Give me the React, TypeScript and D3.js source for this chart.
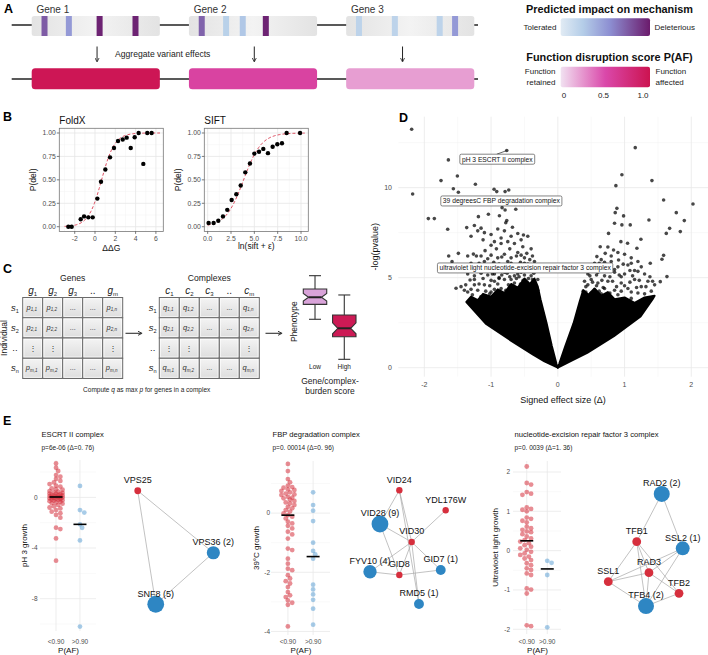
import React from 'react';
import * as d3 from 'd3';

const FONT = "'Liberation Sans', Arial, Helvetica, sans-serif";

// ================= Panel A data =================
const genes = ['Gene 1', 'Gene 2', 'Gene 3'];
const variantPos = [
  [0.10, 0.29, 0.53, 0.81],
  [0.10, 0.29, 0.42, 0.60],
  [0.10, 0.38, 0.73, 0.85],
];
const variantImpact = [
  [0.75, 0.5, 0.97, 0.97],
  [0.72, 0.22, 0.28, 0.97],
  [0.2, 0.2, 0.2, 0.5],
];
const geneScore = [0.97, 0.55, 0.22];
const arrowPos = [0.51, 0.51, 0.44];
const pafTicks = [0, 0.5, 1];
const impactStops = [0, 0.25, 0.55, 1];
const impactColors = ['#e1ebf4', '#b4cde8', '#8d8fd2', '#6b1b6c'];

// ================= Panel B data =================
const foldxX = [-2.63, -2.3, -1.41, -1.08, -0.66, -0.23, 0.23, 0.59, 1.02, 1.48, 1.87, 2.27, 2.73, 3.12, 3.52, 3.91, 4.3, 4.76, 5.15, 5.58];
const foldxY = [0, 0, 0.08, 0.11, 0.1, 0.1, 0.3, 0.48, 0.61, 0.74, 0.84, 0.915, 0.93, 0.95, 0.84, 0.955, 1.0, 0.67, 1.0, 1.0];
const foldxFit = [0.65, 1.55]; // midpoint, slope
const siftX = [0.1, 0.64, 1.14, 1.64, 2.1, 2.57, 3.07, 3.54, 4.03, 4.53, 5.0, 5.5, 5.96, 6.46, 6.96, 7.46, 7.96, 8.46, 9.9];
const siftY = [0.04, 0.04, 0.064, 0.11, 0.18, 0.285, 0.346, 0.44, 0.58, 0.675, 0.78, 0.8, 0.83, 0.785, 0.853, 0.88, 0.89, 1.0, 1.0];
const siftFit = [3.85, 1.05];
const pTicks = [0, 0.25, 0.5, 0.75, 1];

// ================= Panel C data =================
const geneColSubs = ['1', '2', '3', '..', 'm'];
const cplxColSubs = ['1', '2', '3', '..', 'm'];
const rowSubs = ['1', '2', '..', 'n'];
const cellSubs = [
  ['1,1', '1,2', '...', '...', '1,n'],
  ['2,1', '2,2', '...', '...', '2,n'],
  [':', ':', '', '', ':'],
  ['m,1', 'm,2', '...', '...', 'm,n'],
];
const boxGroups = ['Low', 'High'];
const boxMin = [4.79, 0.08];
const boxQ1 = [6.55, 2.74];
const boxMed = [7.38, 3.73];
const boxQ3 = [8.35, 5.29];
const boxMax = [9.92, 7.65];
const boxNotch = [0.45, 0.65];
const boxFill = ['#d9a3d9', '#cc1a55'];

// ================= Panel D data =================
const coreLeft: [number, number][] = [[0, 0], [-0.2, 0.35], [-0.37, 0.72], [-0.72, 1.55], [-1.08, 2.45], [-1.37, 3.65], [-1.3, 3.95], [-1.2, 3.75], [-1.12, 4.1], [-1.0, 3.95], [-0.9, 4.35], [-0.8, 4.15], [-0.7, 4.65], [-0.6, 4.45], [-0.5, 4.95], [-0.42, 4.65], [-0.35, 4.95], [-0.3, 4.5], [-0.26, 3.8], [-0.17, 2.5], [-0.09, 1.2], [-0.02, 0.2]];
const coreRight: [number, number][] = [[0, 0], [0.02, 0.2], [0.11, 1.17], [0.235, 2.46], [0.33, 3.7], [0.38, 4.3], [0.46, 4.05], [0.55, 4.4], [0.65, 4.0], [0.75, 4.2], [0.85, 3.8], [1.0, 3.9], [1.15, 3.6], [1.3, 3.9], [1.45, 4.0], [1.42, 3.8], [1.24, 2.85], [0.84, 1.75], [0.44, 0.82], [0.2, 0.38]];
const volcanoPts: [number, number][] = [
  [-2.19, 13.24], [-2.175, 9.65], [-1.64, 11.54], [-1.75, 10.39], [-1.505, 10.65], [-1.565, 9.94], [-1.49, 9.74], [-1.235, 10.19], [-0.955, 9.91], [-0.915, 9.78], [-0.79, 9.78], [-0.735, 9.87], [-0.765, 12.06], [-1.94, 8.28], [-1.85, 8.28], [-1.65, 7.69], [-1.365, 7.78], [-1.19, 8.39], [-1.04, 8.52], [-0.875, 8.44], [-0.835, 8.89], [-0.79, 8.76], [-0.63, 8.8], [-0.765, 8.17], [-0.78, 8.05], [-1.635, 6.2], [-1.585, 5.89], [-1.49, 6.35], [-1.265, 6.31], [-1.09, 6.5], [-1.525, 4.41], [-1.315, 4.87], [-1.415, 5.43], [-0.515, 7.37], [-0.525, 6.72], [-0.465, 6.35],
  [-1.25, 7.9], [-1.2, 7.6], [-1.15, 7.75], [-1.1, 7.5], [-1.0, 7.4], [-0.95, 7.0], [-0.85, 7.2], [-0.8, 7.6], [-0.7, 7.3], [-0.6, 7.45], [-0.55, 7.1], [-0.75, 7.0], [-0.9, 7.7], [-1.3, 7.3], [-1.12, 7.1], [-0.68, 7.8], [-0.45, 7.3],
  [-1.0, 6.8], [-0.92, 6.6], [-0.85, 6.9], [-0.8, 6.3], [-0.72, 6.6], [-0.65, 6.9], [-0.6, 6.4], [-0.5, 6.1], [-0.7, 6.1], [-0.9, 6.1], [-1.15, 6.2], [-1.35, 6.2], [-0.4, 6.6], [-0.42, 6.0], [-1.05, 6.05],
  [-1.3, 5.8], [-1.2, 5.5], [-1.1, 5.9], [-1.0, 5.6], [-0.95, 5.2], [-0.85, 5.7], [-0.8, 5.3], [-0.75, 5.9], [-0.7, 5.5], [-0.65, 5.1], [-0.6, 5.7], [-0.55, 5.3], [-0.5, 5.8], [-0.45, 5.4], [-0.4, 5.1], [-0.38, 5.6], [-0.35, 5.9], [-1.25, 5.1], [-1.05, 5.15], [-0.88, 5.0], [-0.72, 5.05], [-0.58, 5.05],
  [-1.45, 4.5], [-1.2, 4.3], [-1.1, 4.6], [-1.0, 4.2], [-0.95, 4.8], [-0.85, 4.4], [-0.8, 4.9], [-0.7, 4.2], [-0.65, 4.7], [-0.6, 4.4], [-0.5, 4.8], [-0.45, 4.5], [-0.38, 4.9], [-0.33, 4.3], [-1.35, 4.2], [-1.25, 4.6],
  [-1.28, 4.05], [-1.15, 3.95], [-1.02, 4.1], [-0.88, 4.0], [-0.74, 4.1], [-0.62, 3.95], [-0.48, 4.1], [-0.36, 4.0],
  [-1.4, 4.3], [-1.3, 4.35], [-1.08, 4.25], [-0.95, 4.35], [-0.78, 4.3], [-0.66, 4.4], [-0.55, 4.25], [-0.42, 4.35], [-0.3, 4.3],
  [-1.38, 4.6], [-1.18, 4.65], [-1.02, 4.55], [-0.9, 4.65], [-0.74, 4.6], [-0.56, 4.65], [-0.4, 4.55], [-0.34, 4.65],
  [-1.25, 4.9], [-1.12, 4.95], [-1.0, 4.85], [-0.88, 4.95], [-0.7, 4.9], [-0.62, 4.95], [-0.52, 4.85], [-0.44, 4.95], [-0.3, 4.9],
  [-1.35, 5.2], [-1.15, 5.25], [-0.98, 5.2], [-0.84, 5.15], [-0.76, 5.25], [-0.6, 5.2], [-0.5, 5.15], [-0.36, 5.25],
  [-1.28, 5.5], [-1.05, 5.45], [-0.92, 5.55], [-0.78, 5.5], [-0.64, 5.45], [-0.52, 5.55], [-0.42, 5.5], [-0.32, 5.45],
  [-1.18, 5.8], [-0.96, 5.85], [-0.88, 5.75], [-0.7, 5.8], [-0.56, 5.85], [-0.45, 5.75],
  [-1.22, 6.2], [-1.0, 6.25], [-0.84, 6.15], [-0.62, 6.2], [-0.55, 6.25], [-0.38, 6.2],
  [1.16, 12.22], [0.96, 10.72], [1.41, 10.39], [0.87, 10.11], [1.585, 9.31], [2.025, 9.09], [1.775, 8.61], [1.895, 8.17], [1.365, 8.2], [0.885, 8.85], [0.86, 8.61], [0.985, 8.43], [0.85, 8.02], [0.96, 7.93], [1.085, 7.93], [1.675, 7.74], [1.625, 7.46], [1.835, 7.56], [0.76, 7.46], [0.945, 7.0], [1.045, 6.91], [1.245, 7.13], [0.635, 6.72], [0.835, 6.54], [0.71, 6.35], [1.185, 6.63], [0.91, 5.98], [1.385, 5.8], [1.56, 6.02], [1.585, 6.24], [1.635, 5.06], [1.535, 4.78], [0.585, 6.17],
  [0.8, 6.2], [0.9, 6.4], [1.0, 6.3], [1.1, 6.1], [0.65, 6.0], [0.75, 6.7],
  [0.5, 5.5], [0.55, 5.8], [0.6, 5.3], [0.65, 5.6], [0.7, 5.1], [0.75, 5.5], [0.8, 5.9], [0.85, 5.3], [0.9, 5.6], [1.0, 5.2], [1.05, 5.7], [1.15, 5.4], [1.25, 5.6], [1.3, 5.2], [0.45, 5.2], [1.2, 5.9], [0.95, 5.05],
  [1.45, 4.6], [1.35, 4.8], [1.25, 4.5], [1.15, 4.9], [1.05, 4.4], [0.95, 4.7], [0.85, 4.3], [0.75, 4.8], [0.7, 4.4], [0.6, 4.7], [0.55, 4.3], [0.5, 4.9], [0.45, 4.6], [0.42, 4.2], [1.1, 4.2], [1.3, 4.1], [0.65, 4.1], [0.9, 4.05],
  [0.4, 3.85], [0.55, 3.75], [0.7, 3.85], [0.9, 3.75], [1.1, 3.85], [1.3, 3.75],
  [0.38, 4.25], [0.5, 4.15], [0.62, 4.25], [0.78, 4.15], [0.95, 4.25], [1.2, 4.15], [1.4, 4.25],
  [0.42, 4.5], [0.58, 4.55], [0.68, 4.45], [0.88, 4.5], [1.0, 4.55], [1.18, 4.45], [1.32, 4.5],
  [0.4, 4.8], [0.52, 4.75], [0.66, 4.85], [0.82, 4.8], [1.08, 4.75], [1.22, 4.85], [1.42, 4.8],
  [0.48, 5.1], [0.58, 5.15], [0.78, 5.05], [0.92, 5.15], [1.12, 5.1], [1.38, 5.05],
  [0.42, 5.4], [0.56, 5.45], [0.72, 5.35], [0.85, 5.45], [1.08, 5.4], [1.2, 5.35],
  [0.62, 5.8], [0.7, 5.85], [0.98, 5.75], [1.1, 5.8],
];
const volcanoLabels = ['pH 3 ESCRT II complex', '39 degreesC FBP degradation complex', 'ultraviolet light nucleotide-excision repair factor 3 complex'];
const volcanoLabelX = [-0.907, -0.846, -0.49];
const volcanoLabelY = [11.58, 9.26, 5.54];
const volcanoXTicks = [-2, -1, 0, 1, 2];
const volcanoYTicks = [0, 5, 10];

// ================= Panel E data =================
const escrtRed = [2.68, 2.34, 2.08, 1.76, 1.63, 1.45, 1.3, 1.18, 1.05, 0.92, 0.85, 0.71, 0.65, 0.6, 0.5, 0.45, 0.4, 0.35, 0.3, 0.29, 0.25, 0.2, 0.18, 0.15, 0.12, 0.1, 0.08, 0.05, 0.03, 0.0, -0.02, -0.05, -0.08, -0.1, -0.13, -0.15, -0.2, -0.22, -0.25, -0.3, -0.34, -0.4, -0.45, -0.5, -0.6, -0.7, -0.8, -0.87, -1.0, -1.13, -1.25, -1.39, -1.6, -2.39, -2.5, -3.24, -5.0];
const escrtBlue = [0.9, -1.0, -1.2, -2.13, -2.4, -3.4, -10.2];
const fbpRed = [1.66, 1.42, 1.15, 1.04, 0.93, 0.88, 0.86, 0.8, 0.78, 0.75, 0.7, 0.66, 0.63, 0.61, 0.55, 0.52, 0.5, 0.45, 0.41, 0.36, 0.32, 0.27, 0.21, 0.16, 0.1, 0.05, -0.01, -0.07, -0.12, -0.18, -0.29, -0.35, -0.43, -0.52, -0.63, -0.72, -0.86, -1.2, -1.25, -1.54, -1.71, -1.88, -1.93, -2.1, -2.21, -2.3, -2.38, -2.5, -2.67, -2.78, -2.84, -2.95, -3.03, -3.1, -3.83];
const fbpBlue = [0.7, 0.27, 0.08, -0.27, -1.0, -1.28, -1.4, -1.54, -2.42, -2.58, -2.75, -2.93, -3.23, -3.77];
const nefRed = [2.14, 1.72, 1.68, 1.49, 1.45, 1.42, 1.1, 1.06, 1.04, 1.0, 0.84, 0.81, 0.76, 0.72, 0.61, 0.57, 0.53, 0.49, 0.47, 0.42, 0.36, 0.31, 0.27, 0.23, 0.19, 0.14, 0.1, 0.06, 0.02, -0.03, -0.07, -0.11, -0.15, -0.2, -0.24, -0.32, -0.37, -0.45, -0.49, -0.58, -0.62, -0.96, -0.99, -1.09, -1.9, -1.92];
const nefBlue = [-0.26, -0.31, -0.62, -1.95];
const pafCats = ['<0.90', '>0.90'];

const escrtNodes = ['VPS25', 'VPS36', 'SNF8'];
const escrtCounts = [0, 2, 5];
const escrtLayX = [0.086, 0.926, 0.286];
const escrtLayY = [0.046, 0.542, 0.954];
const escrtEdges: [number, number][] = [[0, 1], [0, 2], [1, 2]];

const fbpNodes = ['VID24', 'YDL176W', 'VID28', 'VID30', 'FYV10', 'GID8', 'GID7', 'RMD5'];
const fbpCounts = [0, 0, 9, 0, 4, 0, 1, 1];
const fbpLayX = [0.404, 0.949, 0.176, 0.549, 0.059, 0.404, 0.891, 0.635];
const fbpLayY = [0.042, 0.202, 0.312, 0.456, 0.694, 0.72, 0.68, 0.952];
const fbpEdges: [number, number][] = [[3, 0], [3, 1], [3, 2], [3, 4], [3, 5], [3, 6], [3, 7], [0, 2], [0, 7], [2, 5], [4, 5], [5, 6]];

const nefNodes = ['RAD2', 'TFB1', 'SSL2', 'RAD3', 'SSL1', 'TFB2', 'TFB4'];
const nefCounts = [2, 0, 1, 0, 0, 0, 2];
const nefLayX = [0.686, 0.408, 0.919, 0.544, 0.092, 0.878, 0.511];
const nefLayY = [0.033, 0.431, 0.486, 0.689, 0.764, 0.861, 0.967];
const nefEdges: [number, number][] = [[0, 1], [0, 2], [1, 4], [1, 3], [1, 6], [1, 5], [2, 3], [2, 6], [2, 4], [4, 3], [4, 6], [3, 5], [3, 6], [6, 5]];

const RED = '#d62f3d';
const BLUE = '#2e86c3';

function measure(text: string, size: number, weight = 'normal') {
  const c = document.createElement('canvas').getContext('2d');
  if (!c) return text.length * size * 0.5;
  c.font = `${weight} ${size}px 'Liberation Sans', Arial`;
  return c.measureText(text).width;
}

// ================= Panel A =================
function PanelA() {
  const x = d3.scaleBand<string>().domain(genes).range([31.7, 474.3]).paddingInner(0.185);
  const bw = x.bandwidth();
  const impactColor = d3.scaleLinear<string>().domain(impactStops).range(impactColors);
  const pafColor = d3.scaleLinear<string>().domain([0, 0.5, 1]).range(['#f1e1f1', '#da48aa', '#cc1350']);
  const tickX = d3.scaleLinear().domain([0, 1]).range([564, 643]);
  return (
    <g>
      <text x={4} y={13} fontWeight="bold" fontSize={12.5}>A</text>
      <line x1={11.7} x2={478} y1={25} y2={25} stroke="#222" strokeWidth={1.3} />
      <line x1={11.7} x2={478} y1={79} y2={79} stroke="#222" strokeWidth={1.3} />
      {genes.map((g, i) => {
        const gx = x(g) as number;
        return (
          <g key={g}>
            <text x={gx + bw * 0.165} y={12.8} fontSize={10} fill="#333" textAnchor="middle">{g}</text>
            <rect x={gx} y={16} width={bw} height={20} rx={2.5} fill="url(#geneGrad)" />
            {variantPos[i].map((p, j) => (
              <rect key={j} x={gx + p * bw - 3} y={16} width={6} height={20} fill={impactColor(variantImpact[i][j])} />
            ))}
            <line x1={gx + arrowPos[i] * bw} x2={gx + arrowPos[i] * bw} y1={46.5} y2={61} stroke="#222" strokeWidth={1} markerEnd="url(#arrowSmall)" />
            <rect x={gx} y={68.3} width={bw} height={21} rx={3.5} fill={pafColor(geneScore[i])} />
          </g>
        );
      })}
      <text x={115} y={56.8} fontSize={8.6} fill="#222">Aggregate variant effects</text>
      {/* legend */}
      <text x={609.5} y={13} fontSize={10.9} fontWeight="bold" textAnchor="middle" fill="#111">Predicted impact on mechanism</text>
      <text x={556.5} y={30} fontSize={8} textAnchor="end" fill="#222">Tolerated</text>
      <rect x={560.7} y={18.3} width={89.3} height={17.7} rx={2} fill="url(#impGrad)" />
      <text x={654.5} y={30} fontSize={8} fill="#222">Deleterious</text>
      <text x={609.5} y={60.5} fontSize={10.9} fontWeight="bold" textAnchor="middle" fill="#111">Function disruption score P(AF)</text>
      <text x={555.5} y={74} fontSize={8} textAnchor="end" fill="#222">Function</text>
      <text x={555.5} y={84.5} fontSize={8} textAnchor="end" fill="#222">retained</text>
      <rect x={560.7} y={66.7} width={89.3} height={20.6} rx={2} fill="url(#pafGrad)" />
      <text x={655.5} y={74} fontSize={8} fill="#222">Function</text>
      <text x={655.5} y={84.5} fontSize={8} fill="#222">affected</text>
      {pafTicks.map((t) => (
        <text key={t} x={tickX(t)} y={97.5} fontSize={8} textAnchor="middle" fill="#222">{t === 0 ? '0' : t.toFixed(1)}</text>
      ))}
    </g>
  );
}

// ================= Panel B =================
type SigProps = {
  title: string; xs: number[]; ys: number[]; fit: number[]; xDomain: [number, number]; left: number; right: number;
  xTicks: number[]; xMinor: number[]; fmt: (v: number) => string; xLabel: string; yTitleX: number; xLabelY: number; curveDomain: [number, number];
};
function SigPanel(p: SigProps) {
  const x = d3.scaleLinear().domain(p.xDomain).range([p.left, p.right]);
  const y = d3.scaleLinear().domain([-0.05, 1.05]).range([231.4, 128.3]);
  const top = 128.3, bottom = 231.4;
  const cx = d3.range(p.curveDomain[0], p.curveDomain[1] + 0.001, (p.curveDomain[1] - p.curveDomain[0]) / 80);
  const line = d3.line<number>().x((v) => x(v)).y((v) => y(1 / (1 + Math.exp(-p.fit[1] * (v - p.fit[0])))));
  const yMinor = [0.125, 0.375, 0.625, 0.875];
  return (
    <g>
      <rect x={p.left} y={top} width={p.right - p.left} height={bottom - top} fill="#fff" />
      {yMinor.map((v) => <line key={'ym' + v} x1={p.left} x2={p.right} y1={y(v)} y2={y(v)} stroke="#f2f2f2" strokeWidth={0.5} />)}
      {p.xMinor.map((v) => <line key={'xm' + v} x1={x(v)} x2={x(v)} y1={top} y2={bottom} stroke="#f2f2f2" strokeWidth={0.5} />)}
      {pTicks.map((v) => <line key={'yg' + v} x1={p.left} x2={p.right} y1={y(v)} y2={y(v)} stroke="#e6e6e6" strokeWidth={0.8} />)}
      {p.xTicks.map((v) => <line key={'xg' + v} x1={x(v)} x2={x(v)} y1={top} y2={bottom} stroke="#e6e6e6" strokeWidth={0.8} />)}
      <path d={line(cx) || ''} fill="none" stroke="#d93a4f" strokeWidth={0.9} strokeDasharray="3,2" />
      {p.xs.map((v, i) => <circle key={i} cx={x(v)} cy={y(p.ys[i])} r={2.2} fill="#000" />)}
      <rect x={p.left} y={top} width={p.right - p.left} height={bottom - top} fill="none" stroke="#777" strokeWidth={0.8} />
      {pTicks.map((v) => (
        <g key={'yt' + v}>
          <line x1={p.left - 2.5} x2={p.left} y1={y(v)} y2={y(v)} stroke="#444" strokeWidth={0.7} />
          <text x={p.left - 3.5} y={y(v) + 2.4} fontSize={6.8} textAnchor="end" fill="#4d4d4d">{v.toFixed(2)}</text>
        </g>
      ))}
      {p.xTicks.map((v) => (
        <g key={'xt' + v}>
          <line x1={x(v)} x2={x(v)} y1={bottom} y2={bottom + 2.5} stroke="#444" strokeWidth={0.7} />
          <text x={x(v)} y={bottom + 9.5} fontSize={6.8} textAnchor="middle" fill="#4d4d4d">{p.fmt(v)}</text>
        </g>
      ))}
      <text x={p.left} y={123.8} fontSize={10} fill="#111">{p.title}</text>
      <text transform={`translate(${p.yTitleX},${(top + bottom) / 2}) rotate(-90)`} fontSize={8.5} textAnchor="middle" dy="0.35em" fill="#111">P(del)</text>
      <text x={(p.left + p.right) / 2} y={p.xLabelY} fontSize={8.5} textAnchor="middle" fill="#111">{p.xLabel}</text>
    </g>
  );
}

function PanelB() {
  return (
    <g>
      <text x={3} y={121} fontWeight="bold" fontSize={12.5}>B</text>
      <SigPanel title="FoldX" xs={foldxX} ys={foldxY} fit={foldxFit} xDomain={[-3.52, 6.73]} left={59.3} right={163.3}
        xTicks={[-2, 0, 2, 4, 6]} xMinor={[-3, -1, 1, 3, 5]} fmt={(v) => String(v)} xLabel="ΔΔG" yTitleX={33} xLabelY={251.3} curveDomain={[-3.0, 6.4]} />
      <SigPanel title="SIFT" xs={siftX} ys={siftY} fit={siftFit} xDomain={[-0.36, 10.78]} left={204.3} right={308.3}
        xTicks={[0, 2.5, 5, 7.5, 10]} xMinor={[1.25, 3.75, 6.25, 8.75]} fmt={(v) => v.toFixed(1)} xLabel="ln(sift + ε)" yTitleX={178.3} xLabelY={249} curveDomain={[0, 10.4]} />
    </g>
  );
}

// ================= Panel C =================
function Matrix({ left, letter, cellLetter, colSubs, title, rowLabelX }: { left: number; letter: string; cellLetter: string; colSubs: string[]; title: string; rowLabelX: number }) {
  const cols = d3.scaleBand<number>().domain(d3.range(5)).range([left, left + 100]);
  const rows = d3.scaleBand<number>().domain(d3.range(4)).range([297.5, 378.5]);
  const cw = cols.bandwidth(), rh = rows.bandwidth();
  return (
    <g>
      <text x={left + 50} y={281.3} fontSize={8.6} textAnchor="middle" fill="#222">{title}</text>
      {colSubs.map((s, j) => (
        <text key={'h' + j} x={(cols(j) as number) + cw / 2} y={294} fontSize={10} textAnchor="middle" fill="#222">
          {s === '..' ? '..' : <><tspan fontStyle="italic">{letter}</tspan><tspan fontSize={6} dy={2}>{s}</tspan></>}
        </text>
      ))}
      {rowSubs.map((s, i) => (
        <text key={'r' + i} x={rowLabelX} y={(rows(i) as number) + rh / 2 + 3} fontSize={9.5} textAnchor="middle" fill="#222">
          {s === '..' ? '..' : <><tspan fontStyle="italic">s</tspan><tspan fontSize={5.5} dy={2}>{s}</tspan></>}
        </text>
      ))}
      {cellSubs.map((row, i) => row.map((c, j) => {
        const cx0 = cols(j) as number, cy0 = rows(i) as number;
        let content: React.ReactNode = null;
        if (c === '...') content = <text x={cx0 + cw / 2} y={cy0 + rh / 2 + 2} fontSize={7} textAnchor="middle" fill="#333">...</text>;
        else if (c === ':') content = <text x={cx0 + cw / 2} y={cy0 + rh / 2 + 3} fontSize={8} textAnchor="middle" fill="#333">⋮</text>;
        else if (c !== '') content = (
          <text x={cx0 + cw / 2 - 1} y={cy0 + rh / 2 + 2} fontSize={7.5} textAnchor="middle" fill="#333">
            <tspan fontStyle="italic">{cellLetter}</tspan><tspan fontSize={4.5} dy={1.5} fontStyle="italic">{c}</tspan>
          </text>
        );
        return (
          <g key={i + '-' + j}>
            <rect x={cx0} y={cy0} width={cw} height={rh} fill="url(#cellGrad)" stroke="#6a6a6a" strokeWidth={1} />
            <rect x={cx0 + 1.3} y={cy0 + 1.3} width={cw - 2.6} height={rh - 2.6} fill="none" stroke="#fff" strokeWidth={0.6} />
            {content}
          </g>
        );
      }))}
    </g>
  );
}

function PanelC() {
  const xb = d3.scaleBand<string>().domain(boxGroups).range([303.3, 356]).paddingInner(0.2);
  const y = d3.scaleLinear().domain([0, 10]).range([360, 275]);
  const bw = xb.bandwidth();
  return (
    <g>
      <text x={3} y={273} fontWeight="bold" fontSize={12.5}>C</text>
      <Matrix left={22.7} letter="g" cellLetter="p" colSubs={geneColSubs} title="Genes" rowLabelX={15} />
      <Matrix left={159.3} letter="c" cellLetter="q" colSubs={cplxColSubs} title="Complexes" rowLabelX={152.7} />
      <text transform="translate(6.5,338) rotate(-90)" fontSize={8.5} textAnchor="middle" fill="#222">Individual</text>
      <line x1={125.5} x2={141} y1={333.3} y2={333.3} stroke="#333" strokeWidth={1.1} markerEnd="url(#arrowSmall)" />
      <line x1={265.5} x2={281} y1={333.3} y2={333.3} stroke="#333" strokeWidth={1.1} markerEnd="url(#arrowSmall)" />
      <text x={146.7} y={392} fontSize={6.5} textAnchor="middle" fill="#222">
        Compute <tspan fontStyle="italic">q</tspan> as max <tspan fontStyle="italic">p</tspan> for genes in a complex
      </text>
      <text transform="translate(296.5,321.7) rotate(-90)" fontSize={8.5} textAnchor="middle" fill="#222">Phenotype</text>
      {boxGroups.map((g, i) => {
        const cx = (xb(g) as number) + bw / 2;
        const w = bw / 2, wn = w * 0.55, n = boxNotch[i];
        const d = `M${cx - w},${y(boxQ3[i])}L${cx + w},${y(boxQ3[i])}L${cx + w},${y(boxMed[i] + n)}L${cx + wn},${y(boxMed[i])}L${cx + w},${y(boxMed[i] - n)}L${cx + w},${y(boxQ1[i])}L${cx - w},${y(boxQ1[i])}L${cx - w},${y(boxMed[i] - n)}L${cx - wn},${y(boxMed[i])}L${cx - w},${y(boxMed[i] + n)}Z`;
        return (
          <g key={g}>
            <line x1={cx} x2={cx} y1={y(boxQ3[i])} y2={y(boxMax[i])} stroke="#333" strokeWidth={1.1} />
            <line x1={cx} x2={cx} y1={y(boxQ1[i])} y2={y(boxMin[i])} stroke="#333" strokeWidth={1.1} />
            <line x1={cx - 6} x2={cx + 6} y1={y(boxMax[i])} y2={y(boxMax[i])} stroke="#333" strokeWidth={1.1} />
            <line x1={cx - 6} x2={cx + 6} y1={y(boxMin[i])} y2={y(boxMin[i])} stroke="#333" strokeWidth={1.1} />
            <path d={d} fill={boxFill[i]} stroke="#333" strokeWidth={1.1} />
            <line x1={cx - wn} x2={cx + wn} y1={y(boxMed[i])} y2={y(boxMed[i])} stroke="#222" strokeWidth={2} />
            <text x={cx} y={369} fontSize={6.5} textAnchor="middle" fill="#222">{g}</text>
          </g>
        );
      })}
      <text x={330} y={384} fontSize={8.5} textAnchor="middle" fill="#222">Gene/complex-</text>
      <text x={330} y={393.5} fontSize={8.5} textAnchor="middle" fill="#222">burden score</text>
    </g>
  );
}

// ================= Panel D =================
function PanelD() {
  const x = d3.scaleLinear().domain([-2.39, 2.25]).range([398.3, 708]);
  const y = d3.scaleLinear().domain([-0.5, 13.94]).range([376.7, 116.7]);
  const poly = d3.line<[number, number]>().x((d) => x(d[0])).y((d) => y(d[1])).curve(d3.curveLinearClosed);
  const xMinor = [-1.5, -0.5, 0.5, 1.5];
  const yMinor = [2.5, 7.5, 12.5];
  const L = 398.3, R = 708, T = 116.7, B = 376.7;
  const fs = 6.7;
  return (
    <g>
      <text x={399} y={121.5} fontWeight="bold" fontSize={12.5}>D</text>
      {yMinor.map((v) => <line key={'ym' + v} x1={L} x2={R} y1={y(v)} y2={y(v)} stroke="#f3f3f3" strokeWidth={0.5} />)}
      {xMinor.map((v) => <line key={'xm' + v} x1={x(v)} x2={x(v)} y1={T} y2={B} stroke="#f3f3f3" strokeWidth={0.5} />)}
      {volcanoYTicks.map((v) => <line key={'yg' + v} x1={L} x2={R} y1={y(v)} y2={y(v)} stroke="#e8e8e8" strokeWidth={0.8} />)}
      {volcanoXTicks.map((v) => <line key={'xg' + v} x1={x(v)} x2={x(v)} y1={T} y2={B} stroke="#e8e8e8" strokeWidth={0.8} />)}
      <path d={poly(coreLeft) || ''} fill="#000" stroke="#000" strokeWidth={2} strokeLinejoin="round" />
      <path d={poly(coreRight) || ''} fill="#000" stroke="#000" strokeWidth={2} strokeLinejoin="round" />
      {volcanoPts.map((d, i) => <circle key={i} cx={x(d[0])} cy={y(d[1])} r={1.8} fill="#000" fillOpacity={0.72} />)}
      {volcanoYTicks.map((v) => <text key={'yt' + v} x={392} y={y(v) + 2.5} fontSize={7} textAnchor="end" fill="#4d4d4d">{v}</text>)}
      {volcanoXTicks.map((v) => <text key={'xt' + v} x={x(v)} y={387} fontSize={7} textAnchor="middle" fill="#4d4d4d">{v}</text>)}
      <text transform={`translate(378,${(T + B) / 2}) rotate(-90)`} fontSize={9} textAnchor="middle" fill="#111">-log(pvalue)</text>
      <text x={563} y={402.5} fontSize={9} textAnchor="middle" fill="#111">Signed effect size (Δ)</text>
      <line x1={x(volcanoLabelX[0]) - 0.5} y1={y(volcanoLabelY[0]) - 5} x2={x(-0.765)} y2={y(12.06)} stroke="#222" strokeWidth={0.7} />
      {volcanoLabels.map((t, i) => {
        const w = measure(t, fs) + 4;
        const cx = x(volcanoLabelX[i]), cy = y(volcanoLabelY[i]);
        return (
          <g key={t}>
            <rect x={cx - w / 2} y={cy - 5} width={w} height={10} rx={1.5} fill="#fff" stroke="#333" strokeWidth={0.6} />
            <text x={cx} y={cy + 2.4} fontSize={fs} textAnchor="middle" fill="#111">{t}</text>
          </g>
        );
      })}
    </g>
  );
}

// ================= Panel E =================
function swarmOffsets(vals: number[], ys: (v: number) => number, r: number, maxW: number): number[] {
  const idx = vals.map((_, i) => i).sort((a, b) => vals[b] - vals[a]);
  const placed: [number, number][] = [];
  const out = new Array(vals.length).fill(0);
  const step = r * 0.9;
  const cands: number[] = [0];
  for (let k = 1; k * step <= maxW; k++) cands.push(k * step, -k * step);
  for (const i of idx) {
    const py = ys(vals[i]);
    let best = 0, bestD = -1;
    for (const c of cands) {
      let md = Infinity;
      for (const [px, qy] of placed) { const d = Math.hypot(px - c, qy - py); if (d < md) md = d; }
      if (md >= 2 * r * 0.8) { best = c; break; }
      if (md > bestD) { bestD = md; best = c; }
    }
    out[i] = best;
    placed.push([best, py]);
  }
  return out;
}

type StripProps = {
  title: string; ptext: string; ylab: string; red: number[]; blue: number[]; yDomain: [number, number]; yRange: [number, number];
  xRange: [number, number]; major: number[]; minor: number[]; tickX: number; ytitleX: number;
};
function Strip(p: StripProps) {
  const x = d3.scalePoint<string>().domain(pafCats).range(p.xRange).padding(0.67);
  const y = d3.scaleLinear().domain(p.yDomain).range(p.yRange);
  const [B, T] = p.yRange;
  const groups = [p.red, p.blue];
  const cols = [RED, '#3d8fcc'];
  const ops = [0.55, 0.45];
  return (
    <g>
      {p.minor.map((v) => <line key={'mi' + v} x1={p.xRange[0]} x2={p.xRange[1]} y1={y(v)} y2={y(v)} stroke="#f2f2f2" strokeWidth={0.5} />)}
      {p.major.map((v) => <line key={'ma' + v} x1={p.xRange[0]} x2={p.xRange[1]} y1={y(v)} y2={y(v)} stroke="#e8e8e8" strokeWidth={0.8} />)}
      {pafCats.map((c) => <line key={c} x1={x(c)} x2={x(c)} y1={T} y2={B} stroke="#e8e8e8" strokeWidth={0.8} />)}
      {groups.map((g, gi) => {
        const offs = swarmOffsets(g, y, 2.4, 8.5);
        const cx = x(pafCats[gi]) as number;
        return g.map((v, i) => <circle key={gi + '-' + i} cx={cx + offs[i]} cy={y(v)} r={2.4} fill={cols[gi]} fillOpacity={ops[gi]} />);
      })}
      {groups.map((g, gi) => {
        const cx = x(pafCats[gi]) as number;
        const m = d3.median(g) as number;
        return <line key={'md' + gi} x1={cx - 6.5} x2={cx + 6.5} y1={y(m)} y2={y(m)} stroke="#000" strokeWidth={1.6} />;
      })}
      {p.major.map((v) => <text key={'t' + v} x={p.tickX} y={y(v) + 2.3} fontSize={6.5} textAnchor="end" fill="#4d4d4d">{v}</text>)}
      {pafCats.map((c) => <text key={'c' + c} x={x(c)} y={644} fontSize={6.5} textAnchor="middle" fill="#4d4d4d">{c}</text>)}
      <text x={(p.xRange[0] + p.xRange[1]) / 2 + 0.5} y={652.5} fontSize={8} textAnchor="middle" fill="#111">P(AF)</text>
      <text transform={`translate(${p.ytitleX},${(T + B) / 2}) rotate(-90)`} fontSize={8} textAnchor="middle" dy="0.35em" fill="#111">{p.ylab}</text>
      <text x={p.xRange[0] + 1.5} y={437} fontSize={7.6} fill="#111">{p.title}</text>
      <text x={p.xRange[0] + 1.5} y={449.7} fontSize={6.5} fill="#222">{p.ptext}</text>
    </g>
  );
}

function Network({ names, counts, lx, ly, edges, box, rRange }: { names: string[]; counts: number[]; lx: number[]; ly: number[]; edges: [number, number][]; box: number[]; rRange: [number, number] }) {
  const x = d3.scaleLinear().domain([0, 1]).range([box[0], box[1]]);
  const y = d3.scaleLinear().domain([0, 1]).range([box[2], box[3]]);
  const r = d3.scaleSqrt().domain([0, d3.max(counts) as number]).range(rRange);
  return (
    <g>
      {edges.map(([a, b], i) => <line key={i} x1={x(lx[a])} y1={y(ly[a])} x2={x(lx[b])} y2={y(ly[b])} stroke="#a8a8a8" strokeWidth={0.7} />)}
      {names.map((n, i) => <circle key={n} cx={x(lx[i])} cy={y(ly[i])} r={r(counts[i])} fill={counts[i] > 0 ? BLUE : RED} />)}
      {names.map((n, i) => (
        <text key={'l' + n} x={x(lx[i])} y={y(ly[i]) - 7.6} fontSize={9} textAnchor="middle" fill="#111">
          {counts[i] > 0 ? `${n} (${counts[i]})` : n}
        </text>
      ))}
    </g>
  );
}

function PanelE() {
  return (
    <g>
      <text x={3} y={424.5} fontWeight="bold" fontSize={12.5}>E</text>
      <Strip title="ESCRT II complex" ptext="p=6e-06 (Δ=0. 76)" ylab="pH 3 growth" red={escrtRed} blue={escrtBlue}
        yDomain={[-10.55, 2.95]} yRange={[631, 460]} xRange={[40, 96]} major={[0, -4, -8]} minor={[2, -2, -6, -10]} tickX={37.5} ytitleX={24} />
      <Network names={escrtNodes} counts={escrtCounts} lx={escrtLayX} ly={escrtLayY} edges={escrtEdges} box={[130, 220, 485, 610]} rRange={[3.4, 8.4]} />
      <Strip title="FBP degradation complex" ptext="p=0. 00014 (Δ=0. 96)" ylab="39°C growth" red={fbpRed} blue={fbpBlue}
        yDomain={[-4.12, 1.76]} yRange={[635, 461]} xRange={[271, 330]} major={[0, -2, -4]} minor={[1, -1, -3]} tickX={270} ytitleX={256} />
      <Network names={fbpNodes} counts={fbpCounts} lx={fbpLayX} ly={fbpLayY} edges={fbpEdges} box={[365, 450, 485, 610]} rRange={[3.2, 8.4]} />
      <Strip title="nucleotide-excision repair factor 3 complex" ptext="p=0. 0039 (Δ=1. 36)" ylab="Ultraviolet light growth" red={nefRed} blue={nefBlue}
        yDomain={[-2.12, 2.28]} yRange={[634, 461]} xRange={[513, 561]} major={[-2, -1, 0, 1, 2]} minor={[-1.5, -0.5, 0.5, 1.5]} tickX={510} ytitleX={495} />
      <Network names={nefNodes} counts={nefCounts} lx={nefLayX} ly={nefLayY} edges={nefEdges} box={[600, 690, 490, 610]} rRange={[4.4, 8.0]} />
    </g>
  );
}

export default function App() {
  return (
    <svg width={708} height={655} viewBox="0 0 708 655" style={{ position: 'absolute', left: 0, top: 0, background: '#fff' }} fontFamily={FONT}>
      <defs>
        <linearGradient id="geneGrad" x1="0" x2="1" y1="0" y2="0">
          <stop offset="0" stopColor="#e3e3e3" />
          <stop offset="0.5" stopColor="#f3f3f3" />
          <stop offset="1" stopColor="#e3e3e3" />
        </linearGradient>
        <linearGradient id="impGrad" x1="0" x2="1" y1="0" y2="0">
          {impactStops.map((s, i) => <stop key={s} offset={s} stopColor={impactColors[i]} />)}
        </linearGradient>
        <linearGradient id="pafGrad" x1="0" x2="1" y1="0" y2="0">
          <stop offset="0" stopColor="#f1e1f1" />
          <stop offset="0.5" stopColor="#da48aa" />
          <stop offset="1" stopColor="#cc1350" />
        </linearGradient>
        <linearGradient id="cellGrad" x1="0" x2="0" y1="0" y2="1">
          <stop offset="0" stopColor="#f4f4f4" />
          <stop offset="1" stopColor="#dddddd" />
        </linearGradient>
        <marker id="arrowSmall" viewBox="0 0 10 10" refX="6" refY="5" markerWidth="5" markerHeight="5" orient="auto">
          <path d="M0,1 L8,5 L0,9" fill="none" stroke="#222" strokeWidth={1.6} />
        </marker>
      </defs>
      <PanelA />
      <PanelB />
      <PanelC />
      <PanelD />
      <PanelE />
    </svg>
  );
}
